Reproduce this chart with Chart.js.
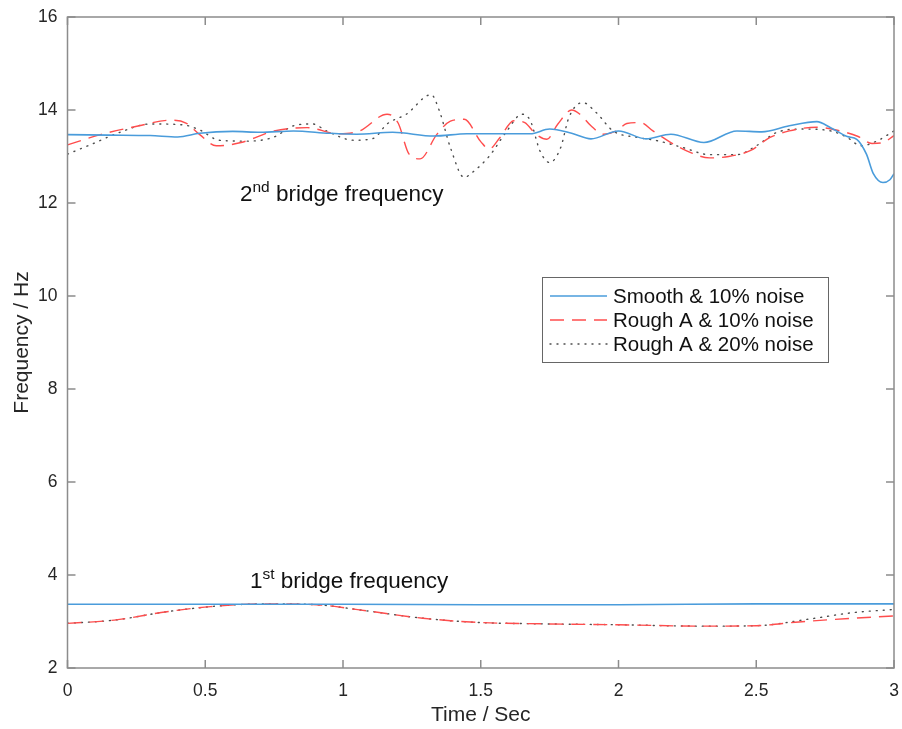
<!DOCTYPE html>
<html>
<head>
<meta charset="utf-8">
<script src="https://cdn.jsdelivr.net/npm/chart.js@4.4.0/dist/chart.umd.min.js"></script>
<style>
  html, body { margin: 0; padding: 0; background: #fff; }
</style>
</head>
<body>
<canvas id="freqChart" width="902" height="729"></canvas>
<script>
/* data: time (s) and identified frequency (Hz) */
const smoothHiT = [0, 0.15, 0.3, 0.4, 0.48, 0.6, 0.7, 0.82, 0.95, 1.05, 1.18, 1.33, 1.45, 1.6, 1.68, 1.75, 1.83, 1.9, 2.0, 2.1, 2.19, 2.31, 2.43, 2.52, 2.62, 2.72, 2.77, 2.83, 2.865, 2.9, 2.925, 2.96, 2.985, 3.0];
const smoothHiF = [13.47, 13.46, 13.45, 13.42, 13.5, 13.54, 13.52, 13.55, 13.5, 13.48, 13.52, 13.44, 13.49, 13.49, 13.49, 13.59, 13.5, 13.38, 13.55, 13.38, 13.48, 13.3, 13.55, 13.53, 13.66, 13.75, 13.62, 13.43, 13.37, 13.05, 12.63, 12.44, 12.5, 12.63];

const roughA10HiT = [0, 0.12, 0.26, 0.37, 0.43, 0.48, 0.54, 0.63, 0.75, 0.87, 0.98, 1.06, 1.16, 1.2, 1.24, 1.28, 1.34, 1.39, 1.44, 1.5, 1.53, 1.57, 1.62, 1.66, 1.7, 1.74, 1.78, 1.83, 1.86, 1.9, 1.945, 1.995, 2.03, 2.08, 2.125, 2.19, 2.26, 2.33, 2.4, 2.48, 2.55, 2.62, 2.72, 2.79, 2.87, 2.92, 2.96, 3.0];
const roughA10HiF = [13.25, 13.47, 13.66, 13.78, 13.72, 13.47, 13.23, 13.3, 13.55, 13.62, 13.49, 13.55, 13.91, 13.72, 13.05, 12.95, 13.47, 13.76, 13.8, 13.32, 13.16, 13.41, 13.77, 13.73, 13.48, 13.37, 13.7, 14.0, 13.91, 13.66, 13.48, 13.56, 13.71, 13.73, 13.55, 13.3, 13.09, 12.97, 13.0, 13.13, 13.41, 13.55, 13.63, 13.57, 13.43, 13.28, 13.3, 13.45];

const roughA20HiT = [0, 0.09, 0.19, 0.3, 0.42, 0.48, 0.55, 0.65, 0.75, 0.82, 0.89, 0.94, 1.04, 1.11, 1.16, 1.23, 1.32, 1.35, 1.39, 1.44, 1.47, 1.53, 1.595, 1.65, 1.68, 1.715, 1.75, 1.79, 1.82, 1.87, 1.92, 1.98, 2.07, 2.14, 2.235, 2.33, 2.43, 2.5, 2.575, 2.67, 2.77, 2.83, 2.88, 2.94, 3.0];
const roughA20HiF = [13.05, 13.27, 13.52, 13.7, 13.68, 13.57, 13.35, 13.33, 13.42, 13.66, 13.7, 13.55, 13.35, 13.39, 13.7, 13.91, 14.33, 13.98, 13.19, 12.55, 12.66, 13.0, 13.55, 13.91, 13.77, 13.12, 12.87, 13.19, 13.84, 14.16, 13.94, 13.55, 13.41, 13.34, 13.19, 13.04, 13.04, 13.23, 13.52, 13.59, 13.55, 13.41, 13.23, 13.34, 13.55];

const smoothLoT = [0, 0.5, 1, 1.5, 2, 2.5, 3];
const smoothLoF = [3.37, 3.37, 3.37, 3.36, 3.36, 3.38, 3.38];

const roughA10LoT = [0, 0.17, 0.36, 0.52, 0.71, 0.905, 1.06, 1.29, 1.49, 1.72, 2.0, 2.31, 2.5, 2.655, 2.85, 3.0];
const roughA10LoF = [2.96, 3.03, 3.21, 3.32, 3.38, 3.36, 3.25, 3.07, 2.98, 2.95, 2.93, 2.9, 2.91, 2.99, 3.07, 3.12];

const roughA20LoT = [0, 0.17, 0.36, 0.52, 0.71, 0.905, 1.06, 1.29, 1.49, 1.72, 2.0, 2.31, 2.5, 2.69, 2.85, 3.0];
const roughA20LoF = [2.96, 3.03, 3.21, 3.32, 3.38, 3.36, 3.25, 3.07, 2.98, 2.95, 2.93, 2.9, 2.91, 3.05, 3.19, 3.26];

const seriesNames = ["Smooth & 10% noise", "Rough A & 10% noise", "Rough A & 20% noise"];
const xTicks = [0, 0.5, 1, 1.5, 2, 2.5, 3];
const yTicks = [2, 4, 6, 8, 10, 12, 14, 16];

const FONT = '"Liberation Sans", Arial, Helvetica, sans-serif';
const blue = '#4a9cdb';
const red = '#ff4d4d';
const dots = '#4d4d4d';
const axisGrey = '#8c8c8c';
const textCol = '#262626';

const pts = (ts, fs) => ts.map((t, i) => ({ x: t, y: fs[i] }));

const styles = [
  { borderColor: blue, borderWidth: 1.6, borderDash: [] },
  { borderColor: red, borderWidth: 1.4, borderDash: [14, 8] },
  { borderColor: dots, borderWidth: 1.4, borderDash: [1, 6], borderCapStyle: 'round' }
];

const curves = [
  [smoothHiT, smoothHiF, 0], [roughA10HiT, roughA10HiF, 1], [roughA20HiT, roughA20HiF, 2],
  [smoothLoT, smoothLoF, 0], [roughA10LoT, roughA10LoF, 1], [roughA20LoT, roughA20LoF, 2]
];

const datasets = curves.map(([t, f, s]) => Object.assign({
  label: seriesNames[s],
  data: pts(t, f),
  pointRadius: 0,
  fill: false,
  tension: 0.4,
  cubicInterpolationMode: 'monotone'
}, styles[s]));

/* MATLAB-like box with inward ticks, legend and the two labels */
const decor = {
  id: 'decor',
  afterDatasetsDraw(chart) {
    const { ctx, chartArea: a, scales: { x, y } } = chart;
    ctx.save();
    ctx.strokeStyle = axisGrey;
    ctx.lineWidth = 1.5;
    ctx.strokeRect(a.left, a.top, a.right - a.left, a.bottom - a.top);
    ctx.beginPath();
    xTicks.forEach(v => {
      const px = x.getPixelForValue(v);
      ctx.moveTo(px, a.bottom); ctx.lineTo(px, a.bottom - 8);
      ctx.moveTo(px, a.top); ctx.lineTo(px, a.top + 8);
    });
    yTicks.forEach(v => {
      const py = y.getPixelForValue(v);
      ctx.moveTo(a.left, py); ctx.lineTo(a.left + 8, py);
      ctx.moveTo(a.right, py); ctx.lineTo(a.right - 8, py);
    });
    ctx.stroke();

    // annotations
    const label = (num, sup, tx, fy) => {
      let px = x.getPixelForValue(tx);
      const py = y.getPixelForValue(fy);
      ctx.fillStyle = '#111';
      ctx.textBaseline = 'alphabetic';
      ctx.textAlign = 'left';
      ctx.font = '22.5px ' + FONT;
      ctx.fillText(num, px, py);
      px += ctx.measureText(num).width;
      ctx.font = '15.5px ' + FONT;
      ctx.fillText(sup, px, py - 9);
      px += ctx.measureText(sup).width;
      ctx.font = '22.5px ' + FONT;
      ctx.fillText(' bridge frequency', px, py);
    };
    label('2', 'nd', 0.626, 12.05);
    label('1', 'st', 0.662, 3.72);

    // legend box
    const bx = 542, by = 277, bw = 286, bh = 85;
    ctx.fillStyle = '#fff';
    ctx.fillRect(bx, by, bw, bh);
    ctx.strokeStyle = '#666';
    ctx.lineWidth = 1;
    ctx.strokeRect(bx + 0.5, by + 0.5, bw, bh);
    const rows = [296, 320, 344];
    ctx.font = '20.5px ' + FONT;
    ctx.textBaseline = 'middle';
    rows.forEach((ry, i) => {
      const st = styles[i];
      ctx.save();
      ctx.strokeStyle = st.borderColor;
      ctx.lineWidth = st.borderWidth;
      ctx.setLineDash(st.borderDash);
      ctx.lineCap = st.borderCapStyle || 'butt';
      ctx.beginPath();
      ctx.moveTo(550, ry); ctx.lineTo(607, ry);
      ctx.stroke();
      ctx.restore();
      ctx.fillStyle = '#111';
      ctx.fillText(seriesNames[i], 613, ry + 1);
    });
    ctx.restore();
  }
};

new Chart(document.getElementById('freqChart'), {
  type: 'line',
  data: { datasets },
  plugins: [decor],
  options: {
    responsive: false,
    animation: false,
    devicePixelRatio: 1,
    layout: { padding: { top: 17, right: 8, left: 0, bottom: 0 } },
    plugins: { legend: { display: false }, tooltip: { enabled: false } },
    scales: {
      x: {
        type: 'linear', min: 0, max: 3,
        afterBuildTicks: s => { s.ticks = xTicks.map(v => ({ value: v })); },
        afterFit: s => { s.height = 61; s.paddingLeft = 0; s.paddingRight = 0; },
        grid: { display: false, drawTicks: false }, border: { display: false },
        ticks: { padding: 13, color: textCol, font: { family: FONT, size: 17.5 }, maxRotation: 0, callback: v => String(v) },
        title: { display: true, text: 'Time / Sec', color: textCol, font: { family: FONT, size: 21 }, padding: { top: 0, bottom: 1 } }
      },
      y: {
        min: 2, max: 16,
        afterBuildTicks: s => { s.ticks = yTicks.map(v => ({ value: v })); },
        afterFit: s => { s.width = 67.5; s.paddingTop = 0; s.paddingBottom = 0; },
        grid: { display: false, drawTicks: false }, border: { display: false },
        ticks: { padding: 10, color: textCol, font: { family: FONT, size: 17.5 }, callback: v => String(v) },
        title: { display: true, text: 'Frequency / Hz', color: textCol, font: { family: FONT, size: 21 }, padding: { top: 10, bottom: 0 } }
      }
    }
  }
});
</script>
</body>
</html>
